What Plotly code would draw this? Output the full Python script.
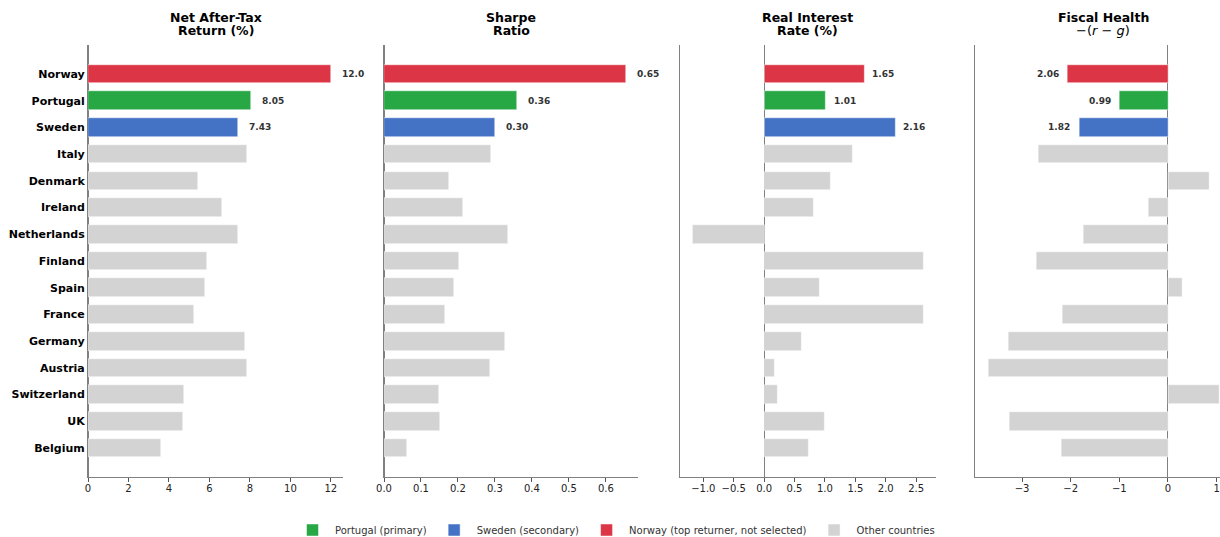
import plotly.graph_objects as go

countries = ["Norway", "Portugal", "Sweden", "Italy", "Denmark", "Ireland", "Netherlands",
             "Finland", "Spain", "France", "Germany", "Austria", "Switzerland", "UK", "Belgium"]

net_return = [12.0, 8.05, 7.43, 7.84, 5.43, 6.62, 7.41, 5.88, 5.78, 5.23, 7.75, 7.85, 4.74, 4.69, 3.60]
sharpe = [0.654, 0.36, 0.30, 0.29, 0.176, 0.214, 0.336, 0.203, 0.19, 0.165, 0.328, 0.287, 0.149, 0.152, 0.063]
real_rate = [1.65, 1.01, 2.16, 1.45, 1.10, 0.82, -1.18, 2.63, 0.905, 2.63, 0.61, 0.165, 0.22, 1.00, 0.73]
fiscal = [-2.06, -0.99, -1.82, -2.67, 0.85, -0.40, -1.74, -2.71, 0.29, -2.18, -3.29, -3.70, 1.05, -3.27, -2.20]

groups = [
    ("Portugal (primary)", ["Portugal"], "#28a745"),
    ("Sweden (secondary)", ["Sweden"], "#4472c4"),
    ("Norway (top returner, not selected)", ["Norway"], "#dc3545"),
    ("Other countries", [c for c in countries if c not in ("Portugal", "Sweden", "Norway")], "#d3d3d3"),
]
highlight = ["Norway", "Portugal", "Sweden"]

panels = [
    dict(vals=net_return, title=["Net After-Tax", "Return (%)"], fmt=lambda v: ("%.1f" % v) if v >= 10 else ("%.2f" % v),
         rng=[0, 12.6], dom=[88, 343], dtick=2, tickformat="d", shift=9, center=215.5),
    dict(vals=sharpe, title=["Sharpe", "Ratio"], fmt=lambda v: "%.2f" % v,
         rng=[0, 0.687], dom=[384, 638], dtick=0.1, tickformat=".1f", shift=9, center=511),
    dict(vals=real_rate, title=["Real Interest", "Rate (%)"], fmt=lambda v: "%.2f" % v,
         rng=[-1.39, 2.82], dom=[679.6, 935.6], dtick=0.5, tickformat=".1f", shift=6, center=807.6),
    dict(vals=fiscal, title=["Fiscal Health", "−(<i>r</i> − <i>g</i>)"], fmt=lambda v: "%.2f" % abs(v),
         rng=[-3.96, 1.07], dom=[975.4, 1220], dtick=1, tickformat="d", shift=7, center=1103),
]

W, H = 1220, 537
fig = go.Figure()
FONT = "DejaVu Sans"
annotations = []

for i, p in enumerate(panels):
    ax = "" if i == 0 else str(i + 1)
    lookup = dict(zip(countries, p["vals"]))
    for name, members, color in groups:
        fig.add_trace(go.Bar(
            y=members, x=[lookup[c] for c in members], orientation="h",
            name=name, legendgroup=name, showlegend=(i == 0),
            marker=dict(color=color, line=dict(color="white", width=0.5)),
            width=0.7, xaxis="x" + ax, yaxis="y" + ax,
        ))
    for c in highlight:
        v = lookup[c]
        annotations.append(dict(
            x=v, y=c, xref="x" + ax, yref="y" + ax, text="<b>%s</b>" % p["fmt"](v),
            showarrow=False, xanchor="left" if v >= 0 else "right",
            xshift=p["shift"] if v >= 0 else -p["shift"],
            font=dict(family=FONT, size=9, color="#333333"),
        ))
    annotations.append(dict(x=p["center"] / W, y=1 - 17 / H, xref="paper", yref="paper",
                            text="<b>%s</b>" % p["title"][0], showarrow=False,
                            xanchor="center", yanchor="middle",
                            font=dict(family=FONT, size=12.5, color="black")))
    second = p["title"][1] if i == 3 else "<b>%s</b>" % p["title"][1]
    annotations.append(dict(x=p["center"] / W, y=1 - 31 / H, xref="paper", yref="paper",
                            text=second, showarrow=False,
                            xanchor="center", yanchor="middle",
                            font=dict(family=FONT, size=12.5 if i < 3 else 13, color="black")))

    fig.update_layout(**{
        "xaxis" + ax: dict(
            domain=[p["dom"][0] / W, p["dom"][1] / W], range=p["rng"], anchor="y" + ax,
            automargin=False,
            showgrid=False, zeroline=True, zerolinecolor="#808080", zerolinewidth=1,
            showline=True, linecolor="#808080", linewidth=1,
            ticks="outside", ticklen=3.5, tickwidth=1, tickcolor="#555555",
            ticklabelstandoff=-2,
            dtick=p["dtick"], tick0=0, tickformat=p["tickformat"],
            tickfont=dict(family=FONT, size=10, color="#222222"),
        ),
        "yaxis" + ax: dict(
            domain=[1 - 477 / H, 1 - 45 / H], anchor="x" + ax,
            automargin=False,
            type="category", categoryorder="array", categoryarray=countries,
            range=[len(countries) - 1 + 1.085, -1.085],
            showgrid=False, zeroline=False, showline=True, linecolor="#808080", linewidth=1,
            ticks="", showticklabels=(i == 0),
            tickfont=dict(family=FONT, size=11, color="black", weight="bold"),
        ),
    })

fig.update_layout(
    width=W, height=H, margin=dict(l=0, r=0, t=0, b=0, autoexpand=False),
    paper_bgcolor="white", plot_bgcolor="white",
    barmode="overlay", bargap=0,
    annotations=annotations,
    showlegend=True,
    legend=dict(orientation="h", x=0.5 + 5 / W, xanchor="center", y=1 - 530 / H, yanchor="middle",
                itemwidth=35,
                font=dict(family=FONT, size=10, color="#333333"), traceorder="normal"),
    font=dict(family=FONT),
)

fig.write_html("out.html")
